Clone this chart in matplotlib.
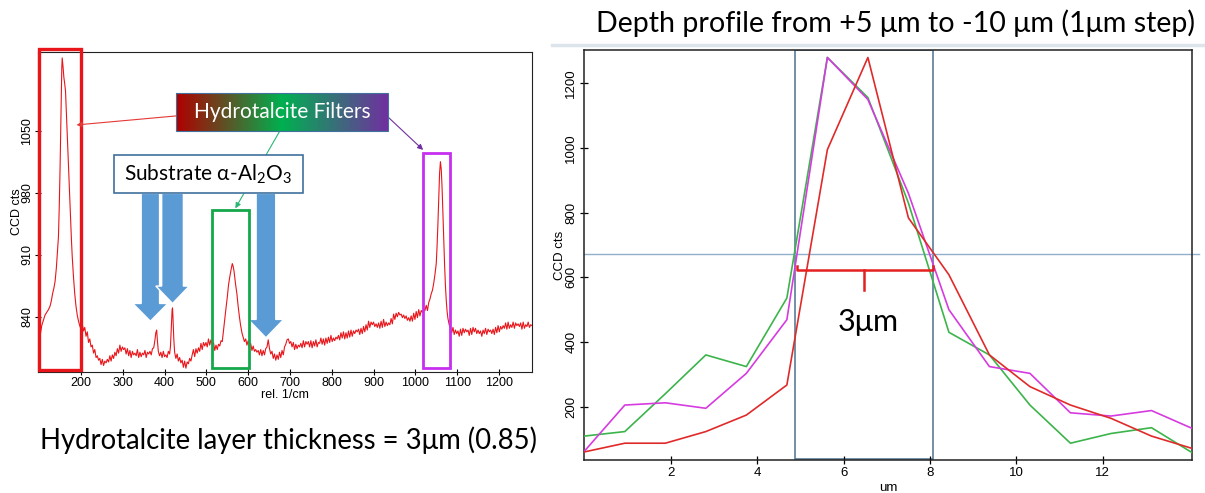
import matplotlib
matplotlib.use('Agg')
import matplotlib.pyplot as plt
import numpy as np
from matplotlib.patches import Rectangle, Polygon
from matplotlib.colors import LinearSegmentedColormap
from matplotlib.lines import Line2D

plt.rcParams['font.family'] = ['Liberation Sans', 'DejaVu Sans']
plt.rcParams['mathtext.default'] = 'regular'
CAL = ['Lato', 'DejaVu Sans']

# Raman spectrum (left panel)
shift = [100, 103, 106, 110, 114, 118, 122, 126, 129, 132, 135, 138, 141, 144, 146, 148, 150, 152, 154, 155,
         157, 159, 161, 163, 165, 167, 169, 171, 173, 175, 177, 179, 182, 185, 188, 191, 194, 197, 200,
         203, 206, 209, 212, 215, 218, 221, 224, 227, 230, 233, 236, 239, 242, 245, 248, 251, 254, 257, 260,
         263, 266, 269, 272, 275, 278, 281, 284, 287, 290, 293, 296, 299, 302, 305, 308, 311, 314, 317, 320,
         323, 326, 329, 332, 335, 338, 341, 344, 347, 350, 353, 356, 359, 362, 365, 368, 371, 374, 377, 379,
         381, 383, 385, 388, 391, 394, 397, 400, 403, 406, 409, 412, 414, 416, 418, 419, 420, 422, 424, 427,
         430, 433, 436, 439, 442, 445, 448, 451, 454, 457, 460, 463, 466, 469, 472, 475, 478, 481, 484, 487,
         490, 493, 496, 499, 502, 505, 508, 511, 514, 517, 520, 523, 526, 529, 532, 535, 538, 541, 544, 547,
         550, 553, 556, 559, 562, 564, 566, 568, 570, 573, 576, 579, 582, 585, 588, 591, 594, 597, 600, 603,
         606, 609, 612, 615, 618, 621, 624, 627, 630, 633, 636, 639, 642, 645, 648, 651, 654, 657, 660, 663,
         666, 669, 672, 675, 678, 681, 684, 687, 690, 693, 696, 699, 702, 705, 708, 711, 714, 717, 720, 723,
         726, 729, 732, 735, 738, 741, 744, 747, 750, 753, 756, 759, 762, 765, 768, 771, 774, 777, 780, 783,
         786, 789, 792, 795, 798, 801, 804, 807, 810, 813, 816, 819, 822, 825, 828, 831, 834, 837, 840, 843,
         846, 849, 852, 855, 858, 861, 864, 867, 870, 873, 876, 879, 882, 885, 888, 891, 894, 897, 900, 903,
         906, 909, 912, 915, 918, 921, 924, 927, 930, 933, 936, 939, 942, 945, 948, 951, 954, 957, 960, 963,
         966, 969, 972, 975, 978, 981, 984, 987, 990, 993, 996, 999, 1002, 1005, 1008, 1011, 1014, 1017, 1020, 1023,
         1026, 1029, 1032, 1035, 1038, 1041, 1044, 1047, 1050, 1052, 1054, 1056, 1058, 1060, 1062, 1064, 1066, 1068, 1070, 1072,
         1074, 1076, 1078, 1081, 1084, 1087, 1090, 1093, 1096, 1099, 1102, 1105, 1108, 1111, 1114, 1117, 1120, 1123, 1126, 1129,
         1132, 1135, 1138, 1141, 1144, 1147, 1150, 1153, 1156, 1159, 1162, 1165, 1168, 1171, 1174, 1177, 1180, 1183, 1186, 1189,
         1192, 1195, 1198, 1201, 1204, 1207, 1210, 1213, 1216, 1219, 1222, 1225, 1228, 1231, 1234, 1237, 1240, 1243, 1246, 1249,
         1252, 1255, 1258, 1261, 1264, 1267, 1270, 1273, 1276, 1279]
cts = [826, 821, 830, 836, 842, 845, 848, 852, 858, 866, 872, 880, 895, 915, 930, 965, 1010, 1065, 1120, 1132,
       1122, 1110, 1103, 1094, 1070, 1045, 1020, 1000, 975, 950, 928, 908, 885, 866, 852, 842, 835, 830, 826,
       832, 824, 828, 818, 823, 811, 815, 806, 808, 799, 803, 794, 796, 791, 793, 786, 792, 785, 790, 788,
       792, 789, 796, 790, 797, 793, 800, 796, 804, 799, 808, 801, 806, 803, 805, 798, 804, 796, 802, 794,
       801, 797, 799, 796, 803, 794, 800, 795, 799, 797, 802, 794, 800, 798, 801, 797, 804, 805, 814, 822,
       825, 812, 801, 796, 800, 794, 801, 795, 797, 794, 801, 798, 806, 826, 848, 850, 840, 815, 800, 793,
       798, 790, 794, 788, 791, 783, 790, 782, 789, 787, 793, 790, 797, 803, 795, 804, 799, 805, 801, 810,
       803, 811, 807, 811, 806, 815, 808, 814, 809, 811, 802, 808, 803, 809, 807, 813, 812, 825, 838, 850,
       862, 876, 885, 893, 900, 897, 892, 884, 876, 866, 852, 840, 830, 822, 817, 812, 815, 808, 813, 805,
       810, 802, 807, 801, 803, 800, 802, 797, 803, 796, 802, 797, 804, 806, 814, 804, 798, 801, 793, 798,
       791, 797, 792, 800, 794, 802, 797, 806, 809, 814, 815, 810, 812, 806, 811, 803, 809, 804, 808, 806,
       810, 805, 813, 806, 812, 809, 812, 806, 813, 805, 812, 807, 814, 806, 811, 810, 816, 809, 815, 808,
       816, 810, 817, 811, 819, 812, 816, 813, 817, 815, 819, 814, 822, 816, 823, 815, 822, 816, 824, 817,
       825, 818, 824, 821, 825, 823, 826, 820, 827, 821, 829, 823, 831, 825, 835, 828, 834, 831, 834, 829,
       832, 828, 833, 827, 835, 828, 837, 829, 834, 830, 833, 831, 838, 832, 843, 837, 844, 840, 845, 842,
       843, 839, 842, 838, 841, 836, 839, 835, 841, 835, 844, 837, 846, 839, 848, 841, 847, 845, 849, 847,
       853, 847, 856, 860, 866, 870, 878, 888, 900, 920, 945, 975, 1002, 1015, 1006, 985, 955, 925, 898, 875,
       858, 846, 838, 831, 826, 822, 828, 820, 825, 821, 824, 818, 826, 819, 827, 822, 826, 823, 825, 819,
       827, 820, 828, 823, 827, 821, 825, 821, 824, 818, 825, 821, 827, 820, 826, 823, 825, 821, 826, 820,
       828, 822, 830, 823, 829, 826, 830, 827, 833, 826, 834, 827, 831, 828, 834, 827, 833, 830, 832, 829,
       833, 826, 834, 827, 831, 829, 834, 828, 831, 830]

# depth profile (right panel), 16 steps of the scan
depth = [0, 0.9375, 1.875, 2.8125, 3.75, 4.6875, 5.625, 6.5625,
         7.5, 8.4375, 9.375, 10.3125, 11.25, 12.1875, 13.125, 14.0625]
prof_green = [109, 123, 240, 360, 324, 536, 1280, 1156, 830, 430, 360, 205, 87, 117, 135, 58]
prof_magenta = [62, 205, 212, 195, 303, 469, 1280, 1150, 860, 500, 324, 303, 181, 171, 188, 133]
prof_red = [60, 87, 87, 123, 174, 267, 995, 1280, 784, 608, 360, 262, 205, 164, 109, 71]

fig = plt.figure(figsize=(12.05, 4.93), dpi=100)

# ---------------- left: spectrum
ax1 = fig.add_axes([0.0315, 0.246, 0.4103, 0.6491])
ax1.plot(shift, cts, color='#e8161b', lw=0.8, zorder=3)
ax1.set_xticks(range(200, 1300, 100))
ax1.set_yticks([840, 910, 980, 1050])
ax1.tick_params(direction='inout', length=5, width=0.8, labelsize=9, pad=1)
plt.setp(ax1.get_yticklabels(), rotation=90, va='center')
ax1.set_xlabel('rel. 1/cm', fontsize=9)
ax1.xaxis.set_label_coords(0.5, -0.054)
ax1.set_ylabel('CCD cts', fontsize=9)
ax1.yaxis.set_label_coords(-0.030, 0.5)
for s in ax1.spines.values():
    s.set_linewidth(0.8)
    s.set_color('#222222')

# boxes around the hydrotalcite bands
ax1.add_patch(Rectangle((99.4, 779.8), 100.6, 362, fill=False, ec='#e8161b', lw=2.4, clip_on=False, zorder=5))
ax1.add_patch(Rectangle((513.3, 781.7), 88.2, 178.7, fill=False, ec='#14a84b', lw=2, clip_on=False, zorder=5))
ax1.add_patch(Rectangle((1018.6, 781.7), 65.2, 243.5, fill=False, ec='#c72ff0', lw=2, clip_on=False, zorder=5))

# gradient label box
cmap = LinearSegmentedColormap.from_list('ht', ['#b00000', '#00b050', '#7030a0'])
grad = np.linspace(0, 1, 256).reshape(1, -1)
ax1.imshow(grad, cmap=cmap, extent=[428.4, 935.4, 1049.6, 1092.2], aspect='auto', zorder=6)
ax1.add_patch(Rectangle((428.4, 1049.6), 507, 42.6, fill=False, ec='#41719c', lw=0.8, zorder=7))
ax1.text(681.9, 1071, 'Hydrotalcite Filters', color='white', fontsize=15, family=CAL,
         ha='center', va='center', zorder=8)

arr = dict(arrowstyle='-|>', lw=0.8, mutation_scale=8, shrinkA=0, shrinkB=0)
ax1.annotate('', xy=(189.3, 1056.4), xytext=(428.4, 1066.6), annotation_clip=False,
             arrowprops=dict(arr, color='#e53935'), zorder=6)
ax1.annotate('', xy=(569.3, 962.3), xytext=(675.7, 1049.6), annotation_clip=False,
             arrowprops=dict(arr, color='#2bb673'), zorder=6)
ax1.annotate('', xy=(1018.6, 1028.2), xytext=(935.4, 1065), annotation_clip=False,
             arrowprops=dict(arr, color='#7030a0'), zorder=6)

# substrate label with block arrows
blue = '#5b9bd5'
ax1.add_patch(Polygon([(619, 979.2), (666, 979.2), (666, 837), (685, 837), (642.5, 816.3), (600, 837), (619, 837)],
                      fc=blue, ec='white', lw=1, zorder=4))
ax1.add_patch(Polygon([(344, 979.2), (388, 979.2), (388, 855), (408, 855), (366, 835), (324, 855), (344, 855)],
                      fc=blue, ec='white', lw=1, zorder=4))
ax1.add_patch(Polygon([(393, 979.2), (445, 979.2), (445, 874.6), (459, 874.6), (419, 855), (379, 874.6), (393, 874.6)],
                      fc=blue, ec='white', lw=1, zorder=4))
ax1.add_patch(Rectangle((278.3, 979.2), 451.8, 43.3, fc='white', ec='#41719c', lw=1.2, zorder=6))
ax1.text(504, 1000.5, 'Substrate α-Al$_2$O$_3$', color='black', fontsize=15, family=CAL,
         ha='center', va='center', zorder=8)

ax1.set_xlim(97, 1280)
ax1.set_ylim(778, 1139)

# ---------------- right: depth profile
ax2 = fig.add_axes([0.4849, 0.0669, 0.5043, 0.8316])
ax2.add_patch(Rectangle((4.88, 37), 3.19, 1266, fill=False, ec='#4d7290', lw=1.1, zorder=1))
ax2.plot([0, 14.22], [672, 672], color='#8fb0c8', lw=1, clip_on=False, zorder=1)
ax2.plot(depth, prof_green, color='#3cb44b', lw=1.2, zorder=3)
ax2.plot(depth, prof_magenta, color='#d63be0', lw=1.2, zorder=3)
ax2.plot(depth, prof_red, color='#e02a2a', lw=1.2, zorder=3)

# FWHM bracket
ax2.plot([4.92, 4.92, 8.07, 8.07], [636, 624, 624, 636], color='#e42020', lw=1.8, zorder=4)
ax2.plot([6.47, 6.47], [624, 562], color='#e42020', lw=1.8, zorder=4)
ax2.text(6.57, 463, '3μm', fontsize=22, family=CAL, ha='center', va='center')

ax2.set_xlim(0, 14.0625)
ax2.set_ylim(35, 1303)
ax2.set_xticks([2, 4, 6, 8, 10, 12])
ax2.set_yticks([200, 400, 600, 800, 1000, 1200])
ax2.tick_params(direction='inout', length=6, width=0.9, labelsize=9.5, pad=2)
plt.setp(ax2.get_yticklabels(), rotation=90, va='center')
ax2.set_xlabel('um', fontsize=9.5)
ax2.xaxis.set_label_coords(0.5, -0.053)
ax2.set_ylabel('CCD cts', fontsize=9.5)
ax2.yaxis.set_label_coords(-0.030, 0.5)
for s in ax2.spines.values():
    s.set_linewidth(1.1)
    s.set_color('#222222')

fig.add_artist(Line2D([552 / 1205, 1.0], [1 - 45 / 493] * 2, color='#dde4ec', lw=2.5))
fig.text(0.4946, 0.952, 'Depth profile from +5 μm to -10 μm (1μm step)', fontsize=20.6, family=CAL, va='center')
fig.text(40 / 1205, 0.1075, 'Hydrotalcite layer thickness = 3μm (0.85)', fontsize=19.8, family=CAL, va='center')

fig.savefig('out.png', dpi=100)
